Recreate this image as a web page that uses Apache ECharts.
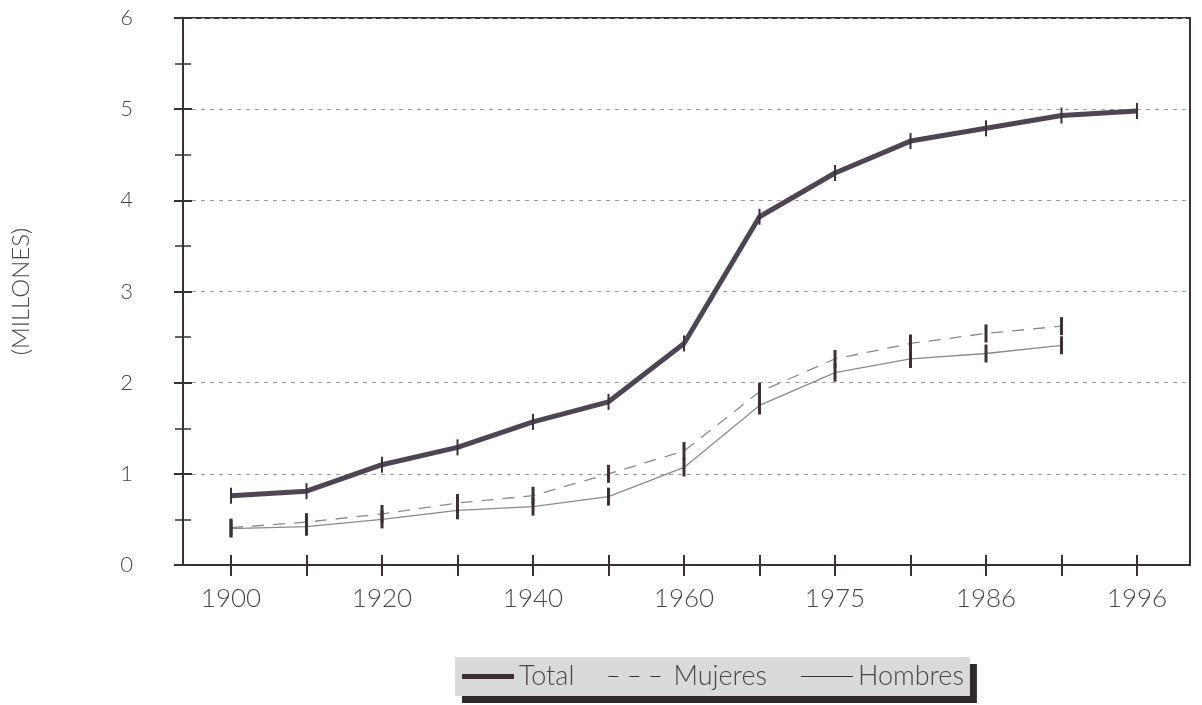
<!DOCTYPE html>
<html>
<head>
<meta charset="utf-8">
<script src="https://cdn.jsdelivr.net/npm/echarts@6/dist/echarts.min.js"></script>
<style>
  html, body { margin: 0; padding: 0; background: #fff; }
  #chart { width: 1202px; height: 705px; }
</style>
</head>
<body>
<div id="chart"></div>
<script>
// years at each tick of the x axis (only every other one is labelled)
const years = ['1900', '1910', '1920', '1930', '1940', '1950', '1960', '1970', '1975', '1981', '1986', '1991', '1996'];
const labelledTicks = [0, 2, 4, 6, 8, 10, 12];

// millions
const total = [0.76, 0.81, 1.10, 1.29, 1.57, 1.79, 2.43, 3.82, 4.30, 4.65, 4.79, 4.93, 4.98];
const mujeres = [0.41, 0.47, 0.56, 0.68, 0.76, 1.00, 1.25, 1.90, 2.26, 2.43, 2.54, 2.62];
const hombres = [0.40, 0.42, 0.50, 0.60, 0.64, 0.75, 1.07, 1.75, 2.11, 2.26, 2.32, 2.41];

const font = 'Lato, "Open Sans", sans-serif';
const textColor = '#4a4548';
const axisColor = '#3a3035';
const markColor = '#3d2f38';

const toPoints = arr => arr.map((v, i) => [i, v]);
const tickValues = years.map((y, i) => i);

const chart = echarts.init(document.getElementById('chart'));

const option = {
  backgroundColor: '#fff',
  animation: false,
  grid: {
    left: 183,
    right: 12,
    top: 18,
    bottom: 140,
    show: true,
    borderColor: axisColor,
    borderWidth: 2
  },
  legend: {
    left: 455,
    top: 657,
    padding: [6, 6, 6, 7],
    itemGap: 34,
    itemWidth: 52,
    itemHeight: 5,
    backgroundColor: '#dadada',
    shadowColor: '#2e2a2c',
    shadowOffsetX: 7,
    shadowOffsetY: 7,
    shadowBlur: 0,
    textStyle: { fontFamily: font, fontSize: 27, fontWeight: 300, color: textColor },
    data: [
      { name: 'Total', icon: 'path://M0,0H52V5H0Z' },
      { name: 'Mujeres', icon: 'path://M0,0H9V1H0Z M19,0H28V1H19Z M38,0H47V1H38Z', textStyle: { padding: [0, 0, 0, 8] } },
      { name: 'Hombres', icon: 'path://M0,0H52V1H0Z' }
    ]
  },
  xAxis: [
    {
      type: 'value',
      min: -0.636,
      max: 12.702,
      position: 'bottom',
      splitLine: { show: false },
      axisLine: { show: true, onZero: false, lineStyle: { color: axisColor, width: 2 } },
      axisTick: {
        show: true,
        length: 11,
        customValues: tickValues,
        lineStyle: { color: axisColor, width: 2 }
      },
      axisLabel: {
        customValues: labelledTicks,
        formatter: v => years[v],
        margin: 21,
        fontFamily: font,
        fontSize: 26,
        fontWeight: 300,
        color: textColor
      }
    },
    {
      type: 'value',
      min: -0.636,
      max: 12.702,
      position: 'bottom',
      splitLine: { show: false },
      axisLine: { show: false, onZero: false },
      axisTick: {
        show: true,
        inside: true,
        length: 10,
        customValues: tickValues,
        lineStyle: { color: axisColor, width: 2 }
      },
      axisLabel: { show: false }
    }
  ],
  yAxis: [
    {
      type: 'value',
      min: 0,
      max: 6,
      interval: 1,
      name: '(MILLONES)',
      nameLocation: 'middle',
      nameGap: 150,
      nameRotate: 90,
      nameTextStyle: { fontFamily: font, fontSize: 24, fontWeight: 300, color: textColor },
      axisLine: { show: true, onZero: false, lineStyle: { color: axisColor, width: 2 } },
      axisTick: { show: true, length: 9, lineStyle: { color: axisColor, width: 2 } },
      minorTick: { show: true, splitNumber: 2, length: 8, lineStyle: { color: axisColor, width: 1.5 } },
      axisLabel: { margin: 50, fontFamily: font, fontSize: 22, fontWeight: 300, color: textColor },
      splitLine: { show: true, lineStyle: { color: '#9a9a9a', type: [4, 5], width: 1 } }
    },
    {
      type: 'value',
      min: 0,
      max: 6,
      interval: 1,
      position: 'left',
      axisLine: { show: false, onZero: false },
      axisTick: { show: true, inside: true, length: 9, lineStyle: { color: axisColor, width: 2 } },
      minorTick: { show: true, splitNumber: 2, length: 8, lineStyle: { color: axisColor, width: 1.5 } },
      axisLabel: { show: false },
      splitLine: { show: false }
    }
  ],
  series: [
    {
      name: 'Total',
      type: 'line',
      data: toPoints(total),
      symbol: 'rect',
      symbolSize: [2, 16],
      itemStyle: { color: markColor },
      lineStyle: { color: '#4e4453', width: 5 },
      z: 3
    },
    {
      name: 'Mujeres',
      type: 'line',
      data: toPoints(mujeres),
      symbol: 'rect',
      symbolSize: [3, 18],
      itemStyle: { color: markColor },
      lineStyle: { color: '#8a8a8a', width: 1.3, type: [12, 9] }
    },
    {
      name: 'Hombres',
      type: 'line',
      data: toPoints(hombres),
      symbol: 'rect',
      symbolSize: [3, 18],
      itemStyle: { color: markColor },
      lineStyle: { color: '#8a8a8a', width: 1.3 }
    }
  ]
};

chart.setOption(option);
</script>
</body>
</html>
